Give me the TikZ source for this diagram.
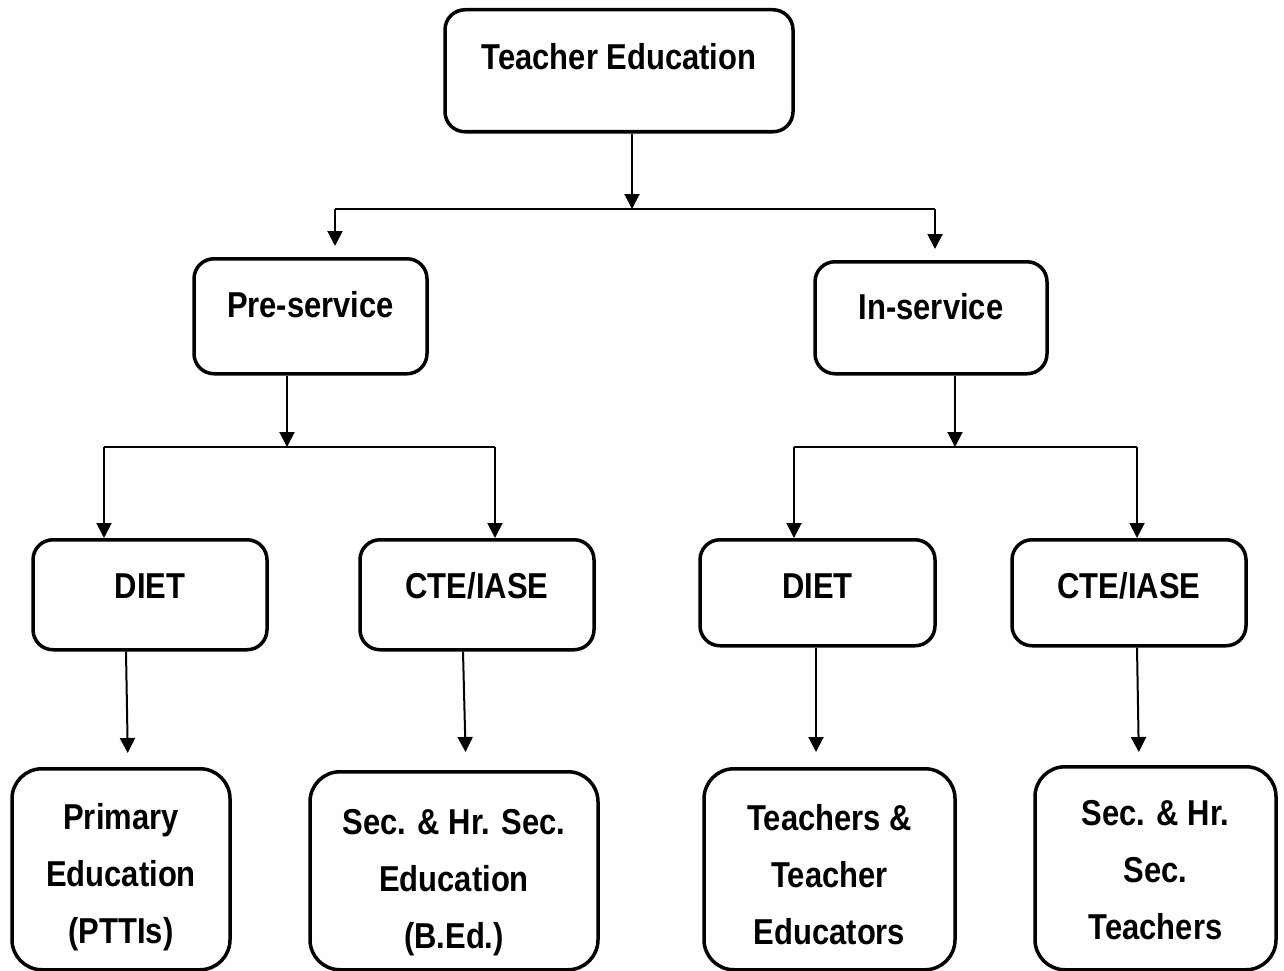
\documentclass[tikz,border=0pt]{standalone}
\usepackage{fontspec}
\newfontfamily\chartfont{Liberation Sans}[FakeStretch=0.86]
\usetikzlibrary{arrows.meta}

\begin{document}
\begin{tikzpicture}[x=1pt, y=-1pt,
    stage/.style={draw, line width=3.5pt, rounded corners=20pt, inner sep=0pt,
      anchor=north, align=center,
      font=\chartfont\bfseries\fontsize{36}{57}\selectfont},
    leaf/.style={stage, rounded corners=30pt},
    wire/.style={line width=2pt},
    link/.style={wire, -{Triangle[width=15pt,length=15pt]}}]
    \useasboundingbox (0,0) rectangle (1284,971);

    % top
    \node [stage, minimum width=348pt, text height=60pt, text depth=62pt] (top) at (619,8) {Teacher Education};

    \node [stage, minimum width=233pt, text height=59pt, text depth=56pt] (pre) at (310.5,257) {Pre-service};
    \node [stage, minimum width=232pt, text height=58pt, text depth=54pt] (in) at (931,260) {In-service};

    % institutions
    \node [stage, minimum width=234pt, text height=59pt, text depth=51pt] (dietL) at (150,538) {DIET};
    \node [stage, minimum width=234pt, text height=59pt, text depth=51pt] (cteL) at (477,538) {CTE/IASE};
    \node [stage, minimum width=235pt, text height=59pt, text depth=47pt] (dietR) at (817.5,538) {DIET};
    \node [stage, minimum width=234pt, text height=59pt, text depth=47pt] (cteR) at (1129,538) {CTE/IASE};

    % levels
    \node [leaf, minimum width=218pt, text height=175pt, text depth=26pt] (prim) at (121,767) {Primary\\Education\\(PTTIs)};
    \node [leaf, minimum width=288pt, text height=177pt, text depth=21pt] (secedu) at (454,770) {Sec. \& Hr. Sec.\\Education\\(B.Ed.)};
    \node [leaf, minimum width=251pt, text height=176pt, text depth=25pt] (teach) at (829.5,767) {Teachers \&\\Teacher\\Educators};
    \node [leaf, minimum width=241pt, text height=173pt, text depth=30pt] (secteach) at (1155.5,765) {Sec. \& Hr.\\Sec.\\Teachers};

    % junctions
    \coordinate (j1) at (632,209);
    \coordinate (j1l) at (335,209);
    \coordinate (j1r) at (935,209);
    \coordinate (j2) at (287,447);
    \coordinate (j2l) at (104,447);
    \coordinate (j2r) at (495,447);
    \coordinate (j3) at (955,447);
    \coordinate (j3l) at (794,447);
    \coordinate (j3r) at (1137,447);

    \draw [link] ([xshift=13pt]top.south) -- (j1);
    \draw [wire] (j1l) -- (j1r);
    \draw [link, shorten >=11pt] (j1l) -- (j1l |- pre.north);
    \draw [link, shorten >=11pt] (j1r) -- (j1r |- in.north);

    \draw [link] (j2 |- pre.south) -- (j2);
    \draw [wire] (j2l) -- (j2r);
    \draw [link] (j2l) -- (j2l |- dietL.north);
    \draw [link] (j2r) -- (j2r |- cteL.north);

    \draw [link] (j3 |- in.south) -- (j3);
    \draw [wire] (j3l) -- (j3r);
    \draw [link] (j3l) -- (j3l |- dietR.north);
    \draw [link] (j3r) -- (j3r |- cteR.north);

    \draw [link, shorten >=14pt] ([xshift=-24pt]dietL.south) -- ([xshift=7pt]prim.north);
    \draw [link, shorten >=18pt] ([xshift=-14pt]cteL.south) -- ([xshift=12pt]secedu.north);
    \draw [link, shorten >=15pt] ([xshift=-1.5pt]dietR.south) -- ([xshift=-13.5pt]teach.north);
    \draw [link, shorten >=13pt] ([xshift=8pt]cteR.south) -- ([xshift=-16.5pt]secteach.north);
  \end{tikzpicture}
\end{document}
